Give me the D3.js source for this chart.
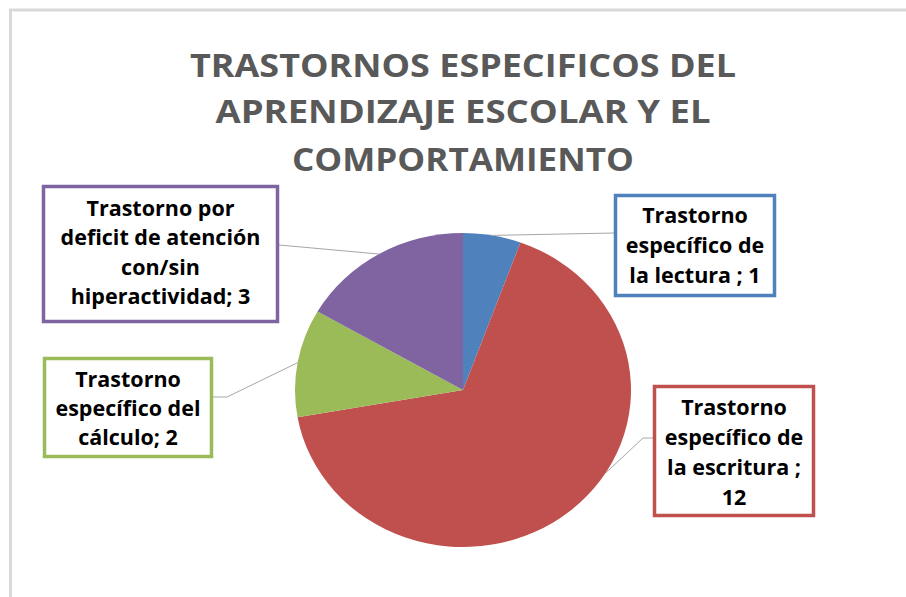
<!DOCTYPE html>
<meta charset="utf-8">
<style>
body {
  margin: 0;
  background: #fff;
}
svg {
  display: block;
}
.title {
  font-family: "Open Sans", sans-serif;
  font-weight: bold;
  fill: #595959;
}
.label {
  font-family: "Open Sans", sans-serif;
  font-weight: bold;
  font-size: 21.5px;
  fill: #000;
}
.leader {
  fill: none;
  stroke: #a6a6a6;
  stroke-width: 1px;
}
</style>
<script src="https://cdn.jsdelivr.net/npm/d3@7"></script>
<body>
<script>
var width = 906,
    height = 597;

var categories = [
  "Trastorno específico de la lectura",
  "Trastorno específico de la escritura",
  "Trastorno específico del cálculo",
  "Trastorno por deficit de atención con/sin hiperactividad"
];
var values = [1, 12, 2, 3];
var labelLines = [
  ["Trastorno", "específico de", "la lectura ; 1"],
  ["Trastorno", "específico de", "la escritura ;", "12"],
  ["Trastorno", "específico del", "cálculo; 2"],
  ["Trastorno  por", "deficit de atención", "con/sin", "hiperactividad; 3"]
];
var titleLines = [
  "TRASTORNOS ESPECIFICOS DEL",
  "APRENDIZAJE ESCOLAR Y EL",
  "COMPORTAMIENTO"
];
var colors = ["#4f81bd", "#c0504d", "#9bbb59", "#8064a2"];

// layout of the label boxes (x, y, w, h) and leader line bends
var boxes = [
  {x: 614, y: 194, w: 162, h: 103, line0: 215, anchor: [614, 233], bend: null, angle: 10},
  {x: 653, y: 385, w: 162, h: 132, line0: 407, anchor: [653, 438], bend: [643, 438], angle: 122},
  {x: 43, y: 357, w: 170, h: 101, line0: 379, anchor: [213, 397], bend: [227, 397], angle: 280},
  {x: 42, y: 185, w: 237, h: 138, line0: 208, anchor: [279, 245], bend: null, angle: 330}
];
var lineStep = [30, 30, 29, 29.5];

var cx = 463, cy = 390, r = 157, sx = 168 / 157;

var svg = d3.select("body").append("svg")
    .attr("width", width)
    .attr("height", height);

// chart area border (cropped on the right and bottom)
svg.append("rect")
    .attr("x", 10.5)
    .attr("y", 10)
    .attr("width", 960)
    .attr("height", 700)
    .attr("fill", "none")
    .attr("stroke", "#d9d9d9")
    .attr("stroke-width", 3);

var titleW = [546, 495, 342];
var titleY = [77, 123, 171];
svg.selectAll("text.title")
    .data(titleLines)
  .enter().append("text")
    .attr("class", "title")
    .attr("x", 463)
    .attr("y", function(d, i) { return titleY[i]; })
    .attr("text-anchor", "middle")
    .style("font-size", "33px")
    .attr("textLength", function(d, i) { return titleW[i]; })
    .attr("lengthAdjust", "spacingAndGlyphs")
    .text(function(d) { return d; });

var pie = d3.pie().sort(null).value(function(d) { return d; });
var arc = d3.arc().innerRadius(0).outerRadius(r);

var g = svg.append("g")
    .attr("transform", "translate(" + cx + "," + cy + ") scale(" + sx + ",1)");

g.selectAll("path")
    .data(pie(values))
  .enter().append("path")
    .attr("d", arc)
    .attr("fill", function(d, i) { return colors[i]; });

function arcPoint(deg) {
  var a = deg * Math.PI / 180;
  return [cx + r * sx * Math.sin(a), cy - r * Math.cos(a)];
}

// leader lines
svg.selectAll("path.leader")
    .data(boxes)
  .enter().append("path")
    .attr("class", "leader")
    .attr("d", function(b) {
      var pts = [b.anchor];
      if (b.bend) pts.push(b.bend);
      pts.push(arcPoint(b.angle));
      return d3.line()(pts);
    });

// label boxes
var lab = svg.selectAll("g.lab")
    .data(boxes)
  .enter().append("g")
    .attr("class", "lab");

lab.append("rect")
    .attr("x", function(b) { return b.x + 1.5; })
    .attr("y", function(b) { return b.y + 1.5; })
    .attr("width", function(b) { return b.w - 3; })
    .attr("height", function(b) { return b.h - 3; })
    .attr("fill", "#fff")
    .attr("stroke", function(b, i) { return colors[i]; })
    .attr("stroke-width", 3.5);

lab.each(function(b, i) {
  d3.select(this).selectAll("text")
      .data(labelLines[i])
    .enter().append("text")
      .attr("class", "label")
      .attr("x", b.x + b.w / 2)
      .attr("y", function(d, j) { return b.line0 + j * lineStep[i]; })
      .attr("dy", "0.35em")
      .attr("text-anchor", "middle")
      .text(function(d) { return d; });
});
</script>
